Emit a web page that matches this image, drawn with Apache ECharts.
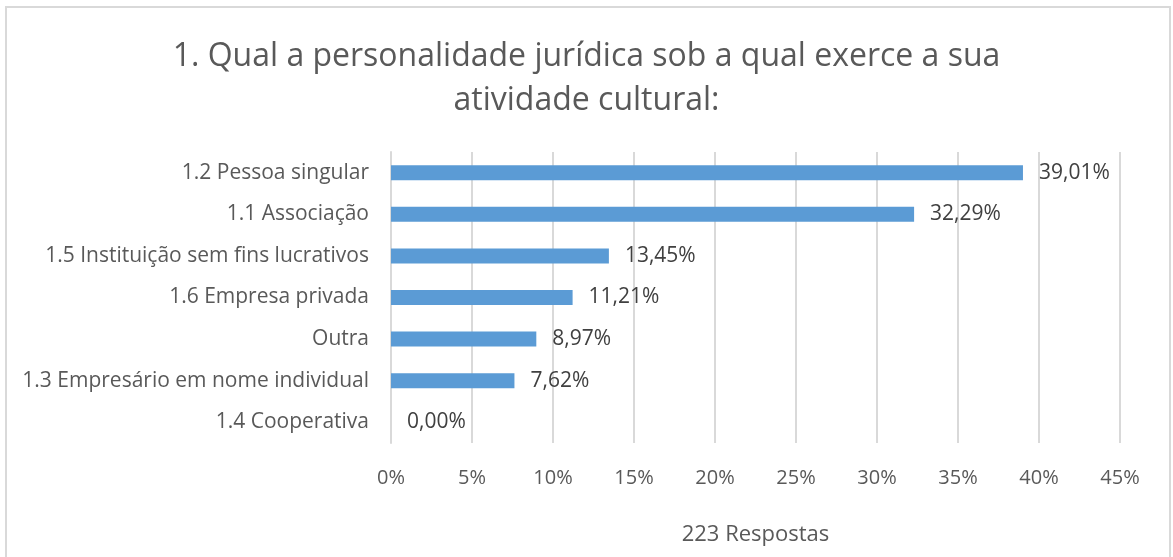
<!DOCTYPE html>
<html>
<head>
<meta charset="utf-8">
<script src="https://cdn.jsdelivr.net/npm/echarts@6/dist/echarts.min.js"></script>
<style>
  html, body { margin: 0; padding: 0; background: #fff; }
  #main { width: 1173px; height: 557px; }
</style>
</head>
<body>
<div id="main"></div>
<script>
// categorias de baixo para cima (eixo y de categorias comeca em baixo)
var categorias = [
    '1.4 Cooperativa',
    '1.3 Empresário em nome individual',
    'Outra',
    '1.6 Empresa privada',
    '1.5 Instituição sem fins lucrativos',
    '1.1 Associação',
    '1.2 Pessoa singular'
];
var percentagens = [0.00, 7.62, 8.97, 11.21, 13.45, 32.29, 39.01];
var ticksX = [0, 5, 10, 15, 20, 25, 30, 35, 40, 45];

var fonte = 'Open Sans, Noto Sans, sans-serif';

var dom = document.getElementById('main');
var myChart = echarts.init(dom);
var option = {
    animation: false,
    title: {
        text: '1. Qual a personalidade jurídica sob a qual exerce a sua\natividade cultural:',
        left: 'center',
        top: 30,
        textStyle: {
            fontFamily: fonte,
            fontSize: 32,
            fontWeight: 'normal',
            color: '#595959',
            lineHeight: 44
        }
    },
    graphic: [{
        type: 'rect',
        shape: { x: 6, y: 7, width: 1164, height: 570 },
        style: { fill: null, stroke: '#d9d9d9', lineWidth: 2 },
        silent: true
    }],
    grid: {
        left: 391,
        right: 53,
        top: 152,
        bottom: 114
    },
    xAxis: {
        type: 'value',
        min: 0,
        max: 45,
        interval: 5,
        name: '223 Respostas',
        nameLocation: 'middle',
        nameGap: 81,
        nameTextStyle: { fontFamily: fonte, fontSize: 22, color: '#595959' },
        axisLine: { show: false },
        axisTick: { show: false },
        axisLabel: {
            fontFamily: fonte,
            fontSize: 20,
            color: '#595959',
            margin: 25,
            formatter: function (v) { return ticksX.indexOf(v) >= 0 ? v + '%' : ''; }
        },
        splitLine: { lineStyle: { color: '#d9d9d9', width: 2 } }
    },
    yAxis: {
        type: 'category',
        data: categorias,
        axisLine: { show: true, lineStyle: { color: '#d9d9d9', width: 2 } },
        axisTick: { show: false },
        axisLabel: {
            fontFamily: fonte,
            fontSize: 21,
            color: '#595959',
            margin: 22
        }
    },
    series: [{
        type: 'bar',
        data: percentagens,
        barWidth: '36%',
        itemStyle: { color: '#5b9bd5' },
        label: {
            show: true,
            position: 'right',
            distance: 16,
            fontFamily: fonte,
            fontSize: 21,
            color: '#404040',
            formatter: function (p) { return p.value.toFixed(2).replace('.', ',') + '%'; }
        }
    }]
};

if (option && typeof option === "object") {
    myChart.setOption(option, true);
}
</script>
</body>
</html>
